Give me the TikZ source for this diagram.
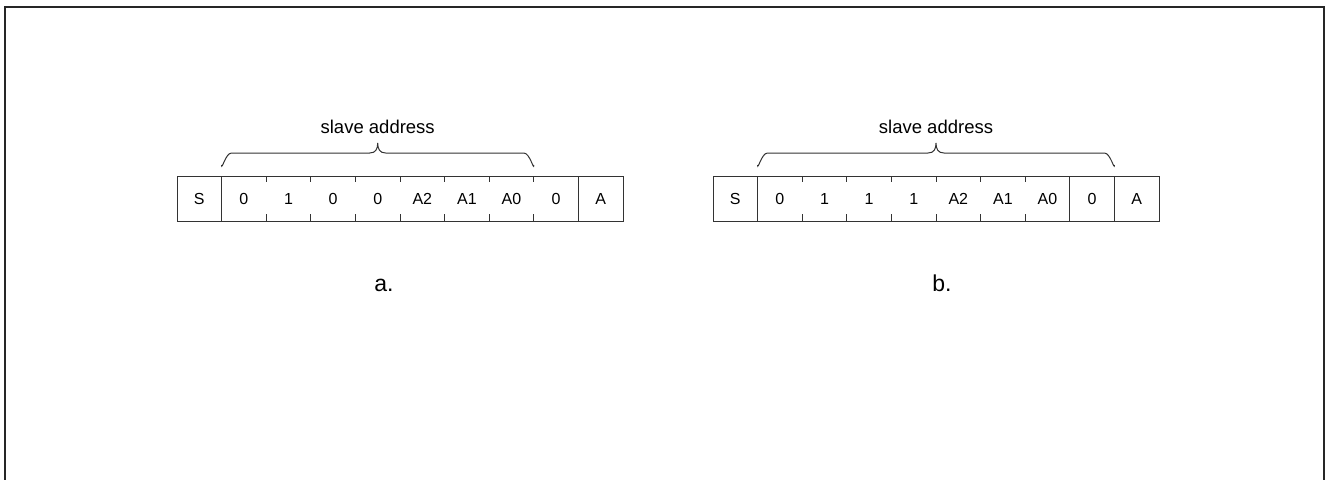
\documentclass[tikz,border=0pt]{standalone}
\usepackage{fontspec}
\setmainfont{Liberation Sans}
\usetikzlibrary{calc}
\begin{document}
\begin{tikzpicture}[x=1pt,y=-1pt,
  frame/.style={line width=2pt,draw=black!85},
  cellline/.style={line width=1pt,draw=black!80},
  celltxt/.style={font=\fontsize{16}{18}\selectfont,anchor=base,inner sep=0pt},
  bracetxt/.style={font=\fontsize{18.5}{20}\selectfont,anchor=base,inner sep=0pt},
  caption/.style={font=\fontsize{23}{26}\selectfont,anchor=base,inner sep=0pt},
  bracepath/.style={line width=1pt,draw=black!80}]
\useasboundingbox (0,0) rectangle (1327,479);
% outer frame (open at the bottom)
\draw[frame] (5,482) -- (5,7) -- (1324,7) -- (1324,482);
\def\cw{44.6}
% ---------- table a ----------
\foreach \t [count=\i from 0] in {S,0,1,0,0,A2,A1,A0,0,A}{
  \node[celltxt] (a\i) at ({177+(\i+0.5)*\cw},204) {\t};
  \coordinate (at\i) at ({177+\i*\cw},176);
  \coordinate (ab\i) at ({177+\i*\cw},221);
}
\coordinate (at10) at ({177+10*\cw},176);
\coordinate (ab10) at ({177+10*\cw},221);
\draw[cellline] (at0) rectangle (ab10);
\foreach \i in {1,9}{\draw[cellline] (at\i) -- (ab\i);}
\foreach \i in {2,...,8}{
  \draw[cellline] (at\i) -- ++(0,6);
  \draw[cellline] (ab\i) -- ++(0,-7);
}
% brace a
\coordinate (ba1) at ({177+1*\cw},165);
\coordinate (ba2) at ({177+8*\cw},165);
\path (ba1) -- (ba2) coordinate[pos=0.5] (bam);
\draw[bracepath] (ba1) to[out=-90,in=180] ++(10,-12) -- ($(bam)+(-8,-12)$)
  .. controls ($(bam)+(-2,-12)$) and ($(bam)+(0,-16)$) .. ($(bam)+(0,-22)$)
  .. controls ($(bam)+(0,-16)$) and ($(bam)+(2,-12)$) .. ($(bam)+(8,-12)$)
  -- ($(ba2)+(-10,-12)$) to[out=0,in=-90] (ba2);
\node[bracetxt] (sa) at ($(bam)+(0,-32)$) {slave address};
\node[caption] (capa) at (384,291) {a.};
% ---------- table b ----------
\foreach \t [count=\i from 0] in {S,0,1,1,1,A2,A1,A0,0,A}{
  \node[celltxt] (b\i) at ({713+(\i+0.5)*\cw},204) {\t};
  \coordinate (bt\i) at ({713+\i*\cw},176);
  \coordinate (bb\i) at ({713+\i*\cw},221);
}
\coordinate (bt10) at ({713+10*\cw},176);
\coordinate (bb10) at ({713+10*\cw},221);
\draw[cellline] (bt0) rectangle (bb10);
\foreach \i in {1,8,9}{\draw[cellline] (bt\i) -- (bb\i);}
\foreach \i in {2,...,7}{
  \draw[cellline] (bt\i) -- ++(0,6);
  \draw[cellline] (bb\i) -- ++(0,-7);
}
% brace b
\coordinate (bb1x) at ({713+1*\cw},165);
\coordinate (bb2x) at ({713+9*\cw},165);
\path (bb1x) -- (bb2x) coordinate[pos=0.5] (bbm);
\draw[bracepath] (bb1x) to[out=-90,in=180] ++(10,-12) -- ($(bbm)+(-8,-12)$)
  .. controls ($(bbm)+(-2,-12)$) and ($(bbm)+(0,-16)$) .. ($(bbm)+(0,-22)$)
  .. controls ($(bbm)+(0,-16)$) and ($(bbm)+(2,-12)$) .. ($(bbm)+(8,-12)$)
  -- ($(bb2x)+(-10,-12)$) to[out=0,in=-90] (bb2x);
\node[bracetxt] (sb) at ($(bbm)+(0,-32)$) {slave address};
\node[caption] (capb) at (942,291) {b.};
\end{tikzpicture}
\end{document}
